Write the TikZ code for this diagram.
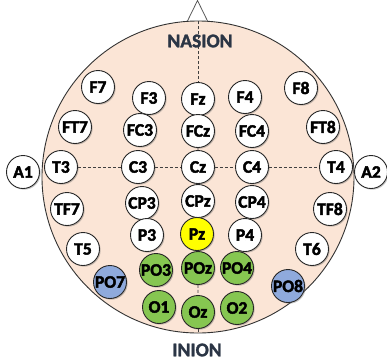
\documentclass[tikz,border=0pt]{standalone}
\usepackage{fontspec}
\setmainfont{Carlito}
\newfontfamily\elfont{Carlito Bold}[FakeBold=2.5]
\newfontfamily\lmfont{Carlito Bold}[FakeBold=1.5]
\usetikzlibrary{shadows}
\definecolor{headfill}{HTML}{FBE5D6}
\definecolor{elgreen}{HTML}{86C651}
\definecolor{elblue}{HTML}{8FAADC}
\definecolor{elyellow}{HTML}{FFFF00}
\definecolor{labcol}{HTML}{2B3545}
\pgfdeclarelayer{headlayer}
\pgfdeclarelayer{linelayer}
\pgfsetlayers{headlayer,linelayer,main}
\tikzset{
  electrode/.style={circle, draw=black!85, line width=0.9pt, fill=white,
    minimum size=33pt, inner sep=0pt,
    font=\elfont\fontsize{17.5}{17.5}\selectfont,
    drop shadow={shadow xshift=1.2pt, shadow yshift=-1.2pt, opacity=0.35, fill=black!60}},
  green el/.style={electrode, fill=elgreen},
  blue el/.style={electrode, fill=elblue},
  yellow el/.style={electrode, fill=elyellow},
  guide/.style={draw=black!75, line width=0.8pt, dash pattern=on 3pt off 2pt},
  landmark/.style={font=\lmfont\fontsize{19.5}{19.5}\selectfont, text=labcol, inner sep=0pt}
}
\begin{document}
\begin{tikzpicture}[x=1pt,y=-1pt]
\useasboundingbox (0,0) rectangle (387,362);
% head and nose
\begin{pgfonlayer}{headlayer}
\draw[draw=black!65, line width=0.8pt, fill=white] (186,24) -- (197.5,0.5) -- (209,24) -- cycle;
\draw[draw=black!80, line width=0.9pt, fill=headfill] (198,177) circle[radius=156];
\end{pgfonlayer}
\coordinate (nasion) at (198,21);
\coordinate (inion) at (198,333);
\node[landmark] (nasionlabel) at (200,41) {NASION};
\node[landmark] (inionlabel) at (197,350) {INION};
% electrodes
\node[electrode] (F7) at (98,87) {F7};
\node[electrode] (F3) at (149,98) {F3};
\node[electrode] (Fz) at (198,99) {Fz};
\node[electrode] (F4) at (245,97) {F4};
\node[electrode] (F8) at (301,88) {F8};
\node[electrode] (FT7) at (75,127) {FT7};
\node[electrode] (FC3) at (140,130) {FC3};
\node[electrode] (FCz) at (198,131) {FCz};
\node[electrode] (FC4) at (252,131) {FC4};
\node[electrode] (FT8) at (323,127) {FT8};
\node[electrode] (A1) at (23,172) {A1};
\node[electrode] (T3) at (61,167) {T3};
\node[electrode] (C3) at (138,167) {C3};
\node[electrode] (Cz) at (198,167) {Cz};
\node[electrode] (C4) at (252,167) {C4};
\node[electrode] (T4) at (336,167) {T4};
\node[electrode] (A2) at (371,172) {A2};
\node[electrode] (TF7) at (67,209) {TF7};
\node[electrode] (CP3) at (142,203) {CP3};
\node[electrode] (CPz) at (198,201) {CPz};
\node[electrode] (CP4) at (252,202) {CP4};
\node[electrode] (TF8) at (330,209) {TF8};
\node[electrode] (P3) at (147,235) {P3};
\node[yellow el] (Pz) at (197,234) {Pz};
\node[electrode] (P4) at (245,235) {P4};
\node[electrode] (T5) at (83,249) {T5};
\node[electrode] (T6) at (312,249) {T6};
\node[green el] (PO3) at (156,270) {PO3};
\node[green el] (POz) at (198,268) {POz};
\node[green el] (PO4) at (237,268) {PO4};
\node[blue el] (PO7) at (110,282) {PO7};
\node[blue el] (PO8) at (288,286) {PO8};
\node[green el] (O1) at (159,307) {O1};
\node[green el] (Oz) at (198,312) {Oz};
\node[green el] (O2) at (237,308) {O2};
% guide lines
\begin{pgfonlayer}{linelayer}
\draw[guide] (nasion) -- (Fz);
\draw[guide] (Fz) -- (FCz) -- (Cz) -- (CPz) -- (Pz) -- (POz) -- (Oz);
\draw[guide] (Oz) -- (inion);
\draw[guide] (T3) -- (C3) -- (Cz) -- (C4) -- (T4);
\end{pgfonlayer}
\end{tikzpicture}
\end{document}
